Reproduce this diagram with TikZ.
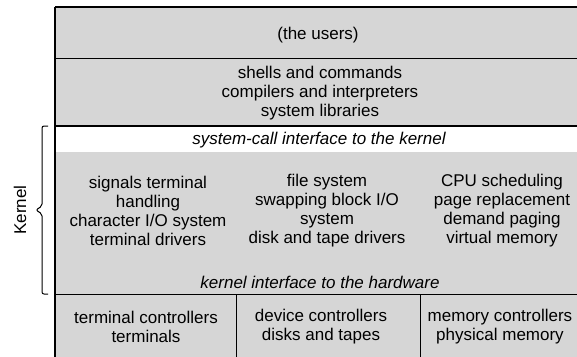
\documentclass[tikz,border=0pt]{standalone}
\usepackage{fontspec}
\setmainfont{Liberation Sans}
\usetikzlibrary{positioning}

\begin{document}
\begin{tikzpicture}[x=1pt,y=-1pt,
     layer/.style = {align=center, inner sep=0pt, font=\fontsize{17}{19}\selectfont},
     iface/.style = {layer, font=\fontsize{17}{19}\selectfont\itshape},
     shade/.style = {fill=black!16},
     thin rule/.style = {draw, line width=0.8pt},
     thick rule/.style = {draw, line width=1.6pt}
    ]
    \useasboundingbox (0,0) rectangle (577,356);

    \coordinate (top left) at (55,7);
    \coordinate (top right) at (582,7);
    \coordinate (users left) at (55,58);
    \coordinate (users right) at (582,58);
    \coordinate (kernel left) at (55,126);
    \coordinate (kernel right) at (582,126);
    \coordinate (hw left) at (55,294);
    \coordinate (hw right) at (582,294);
    \coordinate (bottom left) at (55,360);
    \coordinate (bottom right) at (582,360);

    \fill[shade] (top left) rectangle (kernel right);
    \fill[shade] (55,152) rectangle (hw right);
    \fill[shade] (hw left) rectangle (bottom right);

    \node [layer] (users) at (318,35) {(the users)};
    \node [layer] (shells) at (320,93) {shells and commands\\compilers and interpreters\\system libraries};
    \node [iface] (syscall) at (319,140) {system-call interface to the kernel};
    \node [layer] (signals) at (148,211) {signals terminal\\handling\\character I/O system\\terminal drivers};
    \node [layer] (files) at (327,211) {file system\\swapping block I/O\\system\\disk and tape drivers};
    \node [layer] (cpu) at (502,211) {CPU scheduling\\page replacement\\demand paging\\virtual memory};
    \node [iface] (hwiface) at (320,282) {kernel interface to the hardware};
    \node [layer] (term) at (146,327) {terminal controllers\\terminals};
    \node [layer] (dev) at (321,327) {device controllers\\disks and tapes};
    \node [layer] (mem) at (500,327) {memory controllers\\physical memory};
    \node [layer, rotate=90] (kernel) at (20,210) {Kernel};

    \draw[thick rule] (top left) -- (top right);
    \draw[thick rule] (top left) -- (bottom left);
    \draw[thin rule] (users left) -- (users right);
    \draw[thick rule] (kernel left) -- (kernel right);
    \draw[thin rule] (hw left) -- (hw right);
    \draw[thin rule] (236,294) -- (236,360);
    \draw[thin rule] (420,294) -- (420,360);

    % brace for the kernel part
    \draw[line width=1pt, rounded corners=2pt] (48,126) -- (42,126) -- (42,206) -- (36,210) -- (42,214) -- (42,294) -- (48,294);
\end{tikzpicture}
\end{document}
